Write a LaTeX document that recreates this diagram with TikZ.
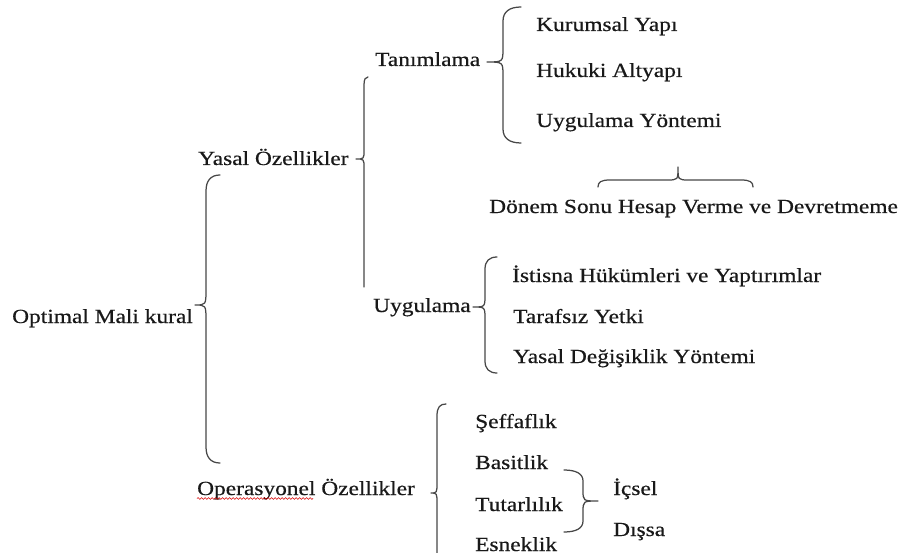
\documentclass[tikz,border=0pt]{standalone}
\usepackage{fontspec}
\setmainfont{Liberation Serif}[FakeStretch=1.17,FakeBold=0.5]
\usetikzlibrary{decorations.pathmorphing}
\tikzset{
  lbl/.style={anchor=base west, inner sep=0pt, font=\fontsize{20}{24}\selectfont, text=black!90},
  bracepath/.style={draw=black!72, line width=1.25pt, line join=round, line cap=round},
  spell/.style={draw=red!85!black, line width=0.6pt, decorate, decoration={snake, amplitude=0.9pt, segment length=3.5pt}}
}
% #1 end x, #2 top y, #3 spine x, #4 tip x, #5 tip y, #6 bottom y, #7 curl
\newcommand{\mybrace}[7]{%
  \draw[bracepath] (#1,#2) .. controls ({#3+0.35*(#1-#3)},#2) and (#3,{#2+0.35*#7}) .. (#3,#2+#7) -- (#3,#5-#7)
    .. controls (#3,#5) .. (#4,#5) .. controls (#3,#5) .. (#3,#5+#7)
    -- (#3,#6-#7) .. controls (#3,{#6-0.35*#7}) and ({#3+0.35*(#1-#3)},#6) .. (#1,#6);}
\begin{document}
\begin{tikzpicture}[x=1pt,y=-1pt]
\useasboundingbox (0,0) rectangle (901,553);
\clip (0,0) rectangle (901,553);
\fill[white] (0,0) rectangle (901,553);

% level 0
\node[lbl] (opt) at (12,323) {Optimal Mali kural};
% level 1
\node[lbl] (yasal) at (198,165) {Yasal Özellikler};
\node[lbl] (oper) at (197,495) {Operasyonel Özellikler};
% level 2
\node[lbl] (tan) at (375,66) {Tanımlama};
\node[lbl] (uyg) at (373,312) {Uygulama};
% Tanımlama children
\node[lbl] (kur) at (536,31) {Kurumsal Yapı};
\node[lbl] (huk) at (536,77) {Hukuki Altyapı};
\node[lbl] (uyy) at (536,127) {Uygulama Yöntemi};
\node[lbl] (don) at (489,213) {Dönem Sonu Hesap Verme ve Devretmeme};
% Uygulama children
\node[lbl] (ist) at (512,282) {İstisna Hükümleri ve Yaptırımlar};
\node[lbl] (taf) at (513,323) {Tarafsız Yetki};
\node[lbl] (ydy) at (513,363) {Yasal Değişiklik Yöntemi};
% Operasyonel children
\node[lbl] (sef) at (475,428) {Şeffaflık};
\node[lbl] (bas) at (475,469) {Basitlik};
\node[lbl] (tut) at (475,511) {Tutarlılık};
\node[lbl] (esn) at (475,551) {Esneklik};
\node[lbl] (ics) at (613,495) {İçsel};
\node[lbl] (dis) at (613,536) {Dışsa};

% spell-check underline
\draw[spell] (197,498.5) -- (313,498.5);

% braces
\mybrace{220}{175}{206}{195}{305}{463}{16}
% Yasal brace (straight bottom end)
\draw[bracepath] (368,77) .. controls (365.5,77) and (364,79) .. (364,85) -- (364,150)
   .. controls (364,159) .. (356,159) .. controls (364,159) .. (364,168) -- (364,287);
\mybrace{521}{7}{503}{487}{62}{143}{14}
\mybrace{497}{257}{485}{473}{307}{373}{12}
% Operasyonel brace (runs off the bottom)
\draw[bracepath] (446,404) .. controls (440,404) and (437,407) .. (437,416) -- (437,482)
   .. controls (437,493) .. (431,493) .. controls (437,493) .. (437,504) -- (437,560);
% İçsel/Dışsa brace
\mybrace{564}{470}{583}{598}{501}{532}{11}
% horizontal brace over Dönem
\draw[bracepath] (598,187) .. controls (598,182) and (601,180) .. (610,180) -- (667,180)
   .. controls (678,180) .. (678,167) .. controls (678,180) .. (689,180)
   -- (741,180) .. controls (750,180) and (753,182) .. (753,187);
\end{tikzpicture}
\end{document}
